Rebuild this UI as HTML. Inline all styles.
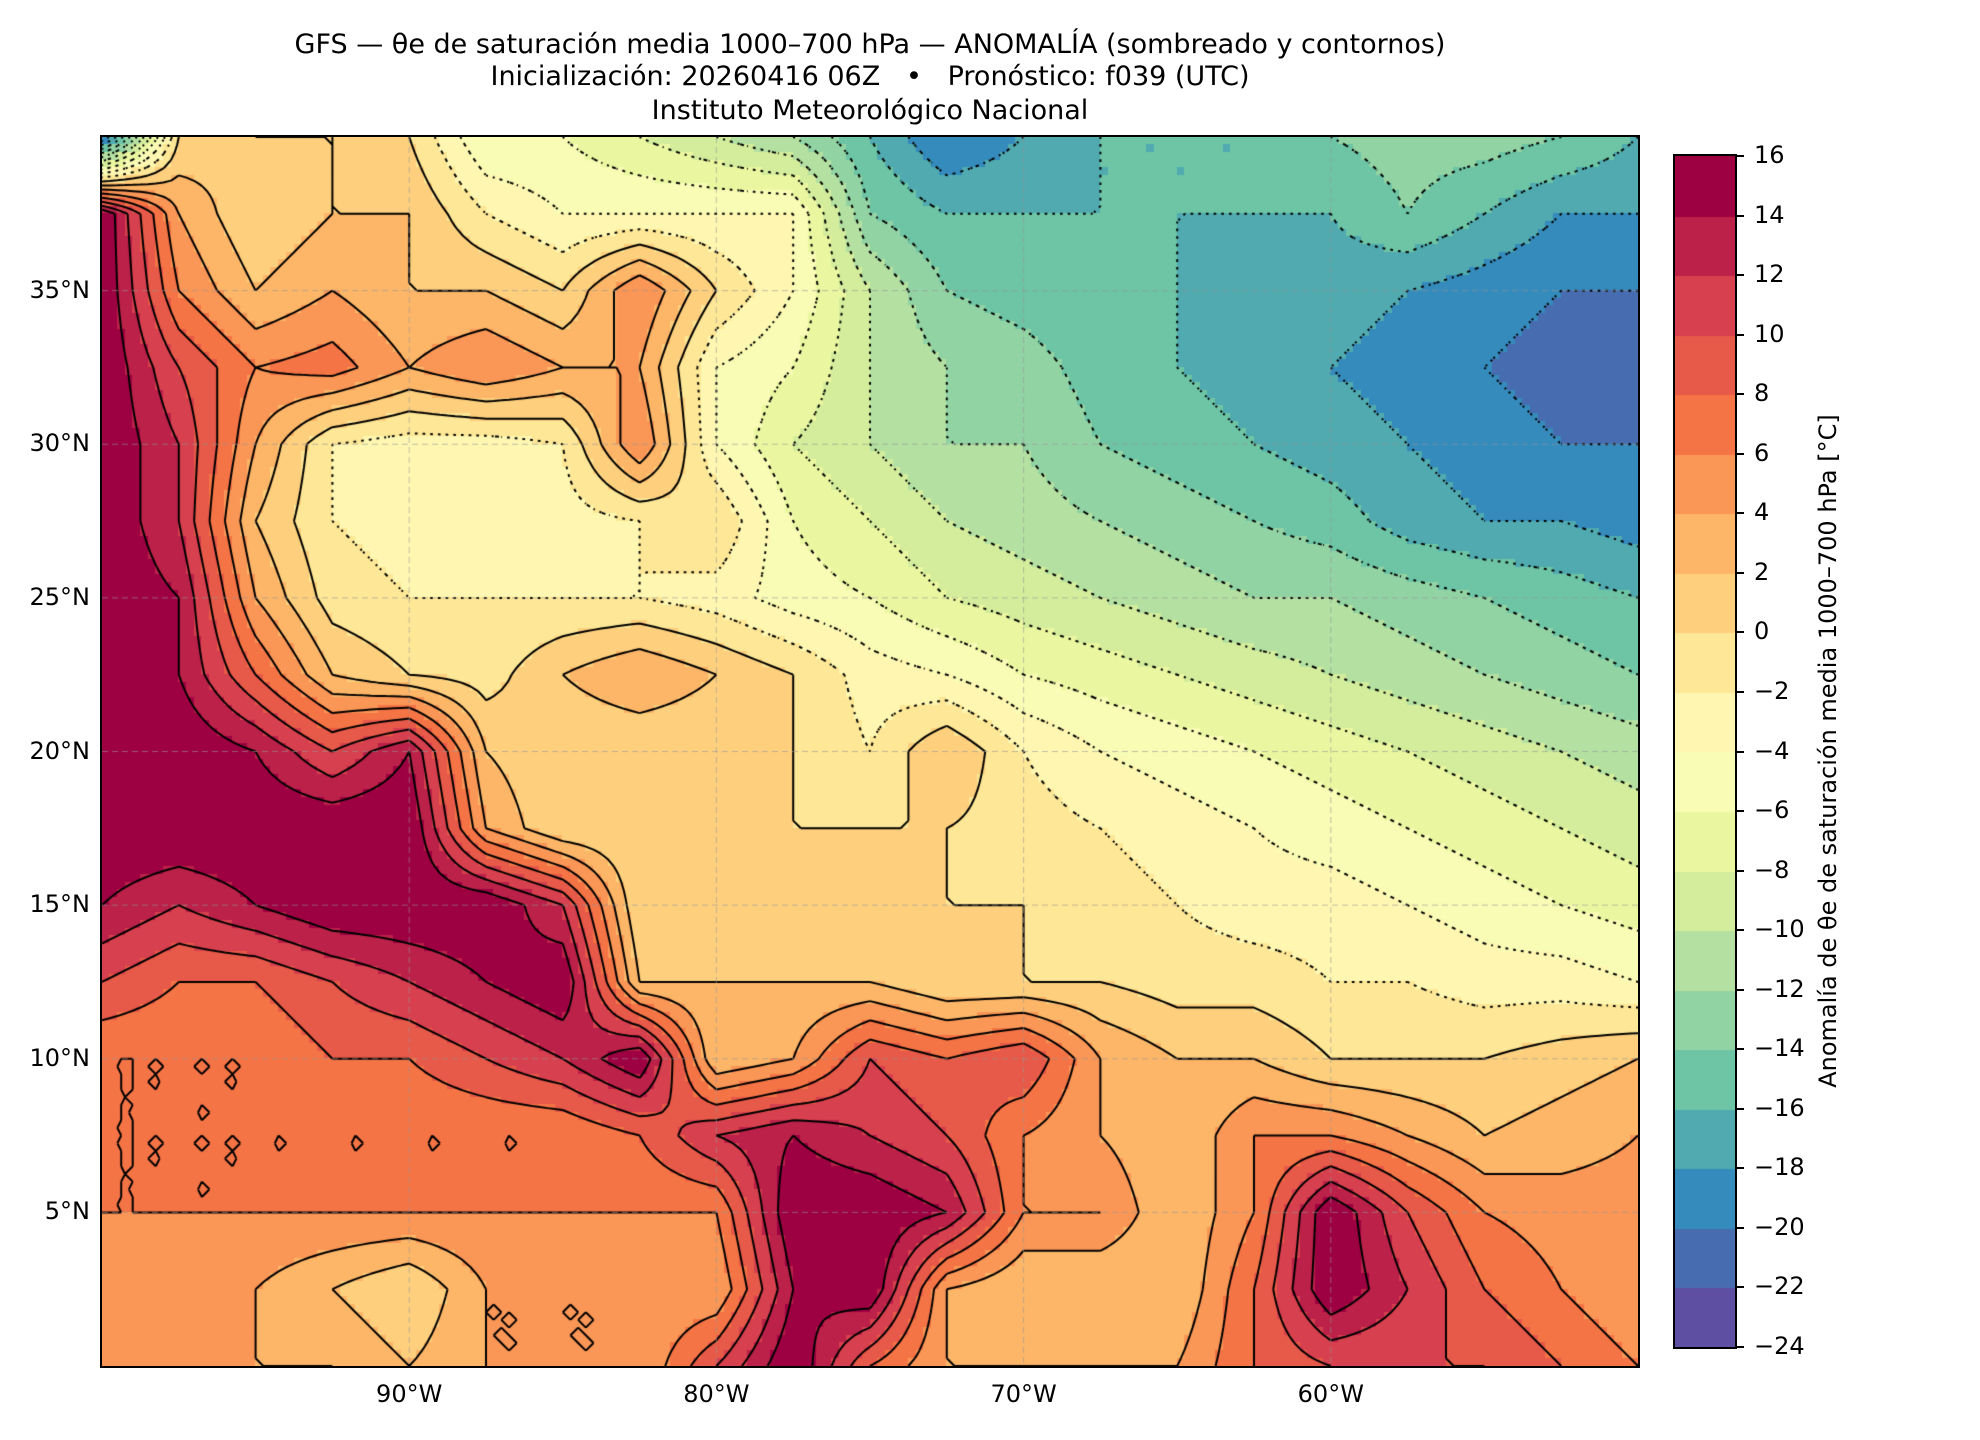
<!DOCTYPE html>
<html><head><meta charset="utf-8">
<style>
html,body{margin:0;padding:0;background:#fff;}
#wrap{position:relative;width:1980px;height:1440px;overflow:hidden;font-family:"DejaVu Sans","Liberation Sans",sans-serif;color:#000;}
.t{position:absolute;left:0;width:1740px;text-align:center;font-size:27px;white-space:nowrap;}
.lab{position:absolute;font-size:24px;white-space:nowrap;}
</style></head>
<body>
<div id="wrap">
<div class="t" style="top:29px;">GFS — θe de saturación media 1000–700 hPa — ANOMALÍA (sombreado y contornos)</div>
<div class="t" style="top:61px;">Inicialización: 20260416 06Z &nbsp; • &nbsp; Pronóstico: f039 (UTC)</div>
<div class="t" style="top:95px;">Instituto Meteorológico Nacional</div>
<canvas id="map" width="1536" height="1229" style="position:absolute;left:102px;top:137px;"></canvas>
<div style="position:absolute;left:101px;top:136px;width:1536px;height:1229px;border:2px solid #000;box-sizing:content-box;margin:-1px;"></div>
<div id="axes"></div>
<canvas id="cbar" width="60" height="1191" style="position:absolute;left:1675px;top:156px;"></canvas>
<div style="position:absolute;left:1674px;top:155px;width:60px;height:1191px;border:2px solid #000;margin:-1px;"></div>
<div class="lab" style="left:1828px;top:751px;transform:translate(-50%,-50%) rotate(-90deg);">Anomalía de θe de saturación media 1000–700 hPa [°C]</div>
</div>
<script>
// grid nodes: lon -100..-50 step 2.5 (21), lat 40..0 step 2.5 (17)
const lons = [-100,-97.5,-95,-92.5,-90,-87.5,-85,-82.5,-80,-77.5,-75,-72.5,-70,-67.5,-65,-62.5,-60,-57.5,-55,-52.5,-50];
const lats = [40,37.5,35,32.5,30,27.5,25,22.5,20,17.5,15,12.5,10,7.5,5,2.5,0];
const row40  = [-22,0,2,2,0,-6,-6,-8,-10,-12,-16,-20,-18,-16,-16,-16,-14,-13,-13,-14,-16];
const row375 = [16,4,0,2,2,-2,-4,-4,-4,-4,-14,-16,-16,-16,-16,-16,-16,-14,-16,-18,-18];
const row35  = [16,6,2,4,2,2,0,6,0,-4,-10,-14,-15,-16,-16,-17,-17,-18,-19,-20,-20];
const row325 = [16,10,6,7,4,6,4,4,-4,-6,-10,-12,-13,-15,-16,-17,-18,-19,-20,-21,-22];
const row30  = [16,12,4,-2,-3,-3,-2,6,-4,-8,-10,-12,-12,-14,-15,-16,-17,-18,-19,-20,-20];
const row275 = [16,12,2,-2,-3,-3,-3,-2,0,-6,-8,-10,-11,-12,-13,-14,-15,-17,-18,-18,-19];
const row25  = [16,14,4,-1,-2,-2,-2,-2,-3,-5,-6,-8,-9,-10,-11,-12,-12,-13,-14,-15,-16];
const row225 = [16,14,8,2,0,-1,2,4,2,0,-3,-4,-6,-7,-8,-9,-10,-11,-12,-13,-14];
const row20  = [16,16,14,10,14,2,0,0,0,0,-2,2,-2,-4,-5,-6,-7,-8,-9,-10,-11];
const row175 = [16,16,16,16,16,4,0,0,0,0,0,0,-1,-2,-3,-4,-5,-6,-7,-8,-9];
const row15  = [14,12,14,16,16,16,12,0,0,0,0,0,0,-1,-2,-3,-3,-4,-5,-6,-7];
const row125 = [10,8,8,10,12,14,16,2,2,2,2,0,0,0,-1,-1,-2,-2,-3,-3,-4];
const row10  = [6,6,6,8,8,10,12,16,2,4,10,8,10,4,2,2,0,0,0,1,2];
const row75  = [6,6,6,6,6,6,6,8,12,14,12,10,6,4,2,6,6,4,2,3,4];
const row5   = [6,6,6,6,6,6,6,6,6,16,16,14,6,6,2,6,16,10,6,5,5];
const row25s = [4,4,4,2,0,4,4,4,4,14,16,4,2,2,2,8,16,12,8,6,4];
const row0   = [4,4,4,4,2,4,4,4,10,16,8,4,4,4,4,8,10,10,10,8,6];
const grid = [row40,row375,row35,row325,row30,row275,row25,row225,row20,row175,row15,row125,row10,row75,row5,row25s,row0];
const cbTicks = [16,14,12,10,8,6,4,2,0,-2,-4,-6,-8,-10,-12,-14,-16,-18,-20,-22,-24];
const lonTicks = [-90,-80,-70,-60];
const latTicks = [35,30,25,20,15,10,5];

const W=1536,H=1229,X0=102,Y0=137;
const xOf = lon => (lon+100)/50*W;
const yOf = lat => (40-lat)/40*H;
const spec = ["#5e4fa2","#3288bd","#66c2a5","#abdda4","#e6f598","#ffffbf","#fee08b","#fdae61","#f46d43","#d53e4f","#9e0142"];
function hex(h){return [parseInt(h.substr(1,2),16),parseInt(h.substr(3,2),16),parseInt(h.substr(5,2),16)];}
function cmap(t){const p=t*10,i=Math.min(9,Math.floor(p)),f=p-i;const a=hex(spec[i]),b=hex(spec[i+1]);return `rgb(${Math.round(a[0]+(b[0]-a[0])*f)},${Math.round(a[1]+(b[1]-a[1])*f)},${Math.round(a[2]+(b[2]-a[2])*f)})`;}
const binColor = k => cmap(k/19);
function field(lon,lat){
  let fx=(lon+100)/2.5, fy=(40-lat)/2.5;
  let i=Math.min(19,Math.max(0,Math.floor(fx))), j=Math.min(15,Math.max(0,Math.floor(fy)));
  let u=fx-i, v=fy-j;
  return grid[j][i]*(1-u)*(1-v)+grid[j][i+1]*u*(1-v)+grid[j+1][i]*(1-u)*v+grid[j+1][i+1]*u*v;
}
const c=document.getElementById('map').getContext('2d');
const step=0.25, NX=200, NY=160;
const vals=[];
for(let j=0;j<=NY;j++){vals[j]=[];for(let i=0;i<=NX;i++){vals[j][i]=field(-100+i*step,40-j*step);}}
for(let j=0;j<NY;j++)for(let i=0;i<NX;i++){
  const v=field(-100+(i+0.5)*step,40-(j+0.5)*step);
  const k=Math.max(0,Math.min(19,Math.floor((v+24)/2)));
  c.fillStyle=binColor(k);
  const x=Math.floor(xOf(-100+i*step)),y=Math.floor(yOf(40-j*step));
  c.fillRect(x,y,Math.ceil(xOf(-100+(i+1)*step))-x,Math.ceil(yOf(40-(j+1)*step))-y);
}
// contours (marching squares)
c.strokeStyle='#000';c.lineWidth=2;
for(let L=-22;L<=14;L+=2){
  c.setLineDash(L<0?[2,5]:[]);
  c.beginPath();
  for(let j=0;j<NY;j++)for(let i=0;i<NX;i++){
    const a=vals[j][i],b=vals[j][i+1],d=vals[j+1][i+1],e=vals[j+1][i];
    const pts=[];
    const x0=xOf(-100+i*step),x1=xOf(-100+(i+1)*step),y0=yOf(40-j*step),y1=yOf(40-(j+1)*step);
    if((a<L)!=(b<L))pts.push([x0+(L-a)/(b-a)*(x1-x0),y0]);
    if((b<L)!=(d<L))pts.push([x1,y0+(L-b)/(d-b)*(y1-y0)]);
    if((e<L)!=(d<L))pts.push([x0+(L-e)/(d-e)*(x1-x0),y1]);
    if((a<L)!=(e<L))pts.push([x0,y0+(L-a)/(e-a)*(y1-y0)]);
    if(pts.length>=2){c.moveTo(pts[0][0],pts[0][1]);c.lineTo(pts[1][0],pts[1][1]);}
    if(pts.length==4){c.moveTo(pts[2][0],pts[2][1]);c.lineTo(pts[3][0],pts[3][1]);}
  }
  c.stroke();
}
// gridlines
c.setLineDash([6,4]);c.strokeStyle='rgba(150,150,150,0.6)';c.lineWidth=1;
lonTicks.forEach(l=>{c.beginPath();c.moveTo(xOf(l),0);c.lineTo(xOf(l),H);c.stroke();});
latTicks.forEach(l=>{c.beginPath();c.moveTo(0,yOf(l));c.lineTo(W,yOf(l));c.stroke();});
// axis labels
const wrap=document.getElementById('wrap');
lonTicks.forEach(l=>{
  const d=document.createElement('div');d.className='lab';
  
  
  d.textContent=Math.abs(l)+'°W';d.style.left=(X0+xOf(l))+'px';d.style.top='1380px';d.style.transform='translateX(-50%)';
  wrap.appendChild(d);
});
latTicks.forEach(l=>{
  const d=document.createElement('div');d.className='lab';
  
  
  d.textContent=l+'°N';d.style.right=(1980-90)+'px';d.style.top=(Y0+yOf(l)-15)+'px';
  wrap.appendChild(d);
});
// colorbar
const cb=document.getElementById('cbar').getContext('2d');
const ch=1191/20;
for(let k=0;k<20;k++){cb.fillStyle=binColor(k);cb.fillRect(0,Math.floor(1191-(k+1)*ch),60,Math.ceil(ch)+1);}
cbTicks.forEach(v=>{
  const y=156+(16-v)/40*1191;
  const t=document.createElement('div');
  
  
  t.style.cssText=`position:absolute;left:1735px;top:${y-1}px;width:9px;height:2px;background:#000;`;
  wrap.appendChild(t);
  const d=document.createElement('div');d.className='lab';
  
  
  d.textContent=(v<0?'−':'')+Math.abs(v);d.style.left='1754px';d.style.top=(y-15)+'px';
  wrap.appendChild(d);
});
</script>
</body></html>
